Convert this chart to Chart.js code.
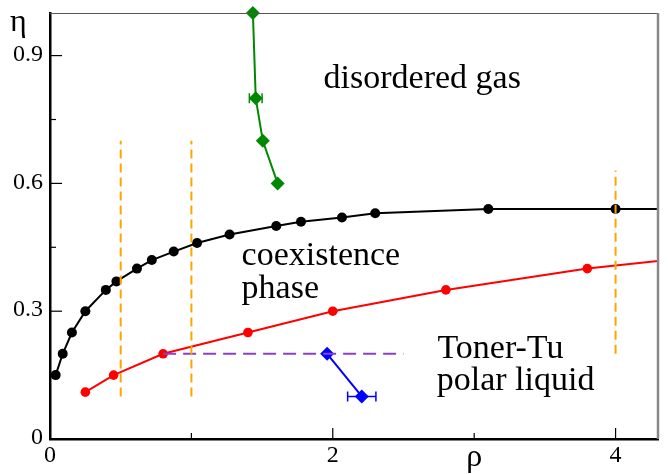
<!DOCTYPE html>
<html>
<head>
<meta charset="utf-8">
<script src="https://cdn.jsdelivr.net/npm/chart.js@4.4.1/dist/chart.umd.min.js"></script>
<style>
    body { margin: 0; background: #fff; }
    #wrap { width: 668px; height: 474px; }
</style>
</head>
<body>
<div id="wrap"><canvas id="phaseChart"></canvas></div>
<script>
// binodal (black), spinodal-ish (red), gas boundary (green), Toner-Tu (blue)
const blackRho = [0.04, 0.09, 0.155, 0.25, 0.395, 0.47, 0.615, 0.72, 0.875, 1.04, 1.27, 1.6, 1.775, 2.065, 2.3, 3.1, 4.0, 4.5];
const blackEta = [0.15, 0.2, 0.25, 0.3, 0.35, 0.37, 0.4, 0.42, 0.44, 0.46, 0.48, 0.5, 0.51, 0.52, 0.53, 0.54, 0.54, 0.54];
const redRho = [0.25, 0.45, 0.8, 1.4, 2.0, 2.8, 3.8, 4.5];
const redEta = [0.11, 0.15, 0.2, 0.25, 0.3, 0.35, 0.4, 0.425];
const greenRho = [1.435, 1.455, 1.505, 1.61];
const greenEta = [1.0, 0.8, 0.7, 0.6];
const greenErr = [0, 0.045, 0, 0];
const blueRho = [1.96, 2.205];
const blueEta = [0.2, 0.1];
const blueErr = [0, 0.1];

// dashed guide lines
const purpleRho = [0.8, 2.5];
const purpleEta = [0.2, 0.2];
const orangeLines = [
    { rho: 0.5, from: 0.1, to: 0.7 },
    { rho: 1.0, from: 0.1, to: 0.7 },
    { rho: 4.0, from: 0.2, to: 0.63 }
];

const xTicks = [0, 2, 4];
const xMinorTicks = [1, 3];
const yTicks = [0, 0.3, 0.6, 0.9];
const yMinorTicks = [0.15, 0.45, 0.75];

const regionLabels = [
    { text: "disordered gas", rho: 1.935, eta: 0.825 },
    { text: "coexistence", rho: 1.355, eta: 0.408 },
    { text: "phase", rho: 1.355, eta: 0.33 },
    { text: "Toner-Tu", rho: 2.74, eta: 0.19 },
    { text: "polar liquid", rho: 2.735, eta: 0.115 }
];

const serif = "'Liberation Serif', 'DejaVu Serif', serif";

function pairs(xs, ys) {
    return xs.map((x, i) => ({ x: x, y: ys[i] }));
}

const datasets = [];

orangeLines.forEach(l => {
    datasets.push({
        data: [{ x: l.rho, y: l.from }, { x: l.rho, y: l.to }],
        borderColor: "#ffa500",
        borderWidth: 2,
        borderDash: [9, 5],
        pointRadius: 0
    });
});

datasets.push({
    data: pairs(purpleRho, purpleEta),
    borderColor: "#8a3fc8",
    borderWidth: 2,
    borderDash: [13, 7],
    pointRadius: 0
});

datasets.push({
    data: pairs(blackRho, blackEta),
    borderColor: "#000",
    backgroundColor: "#000",
    borderWidth: 2,
    pointRadius: 5,
    pointBorderWidth: 0
});

datasets.push({
    data: pairs(redRho, redEta),
    borderColor: "#ff0000",
    backgroundColor: "#ff0000",
    borderWidth: 2,
    pointRadius: 4.8,
    pointBorderWidth: 0
});

datasets.push({
    data: pairs(greenRho, greenEta),
    errors: greenErr,
    borderColor: "#008800",
    backgroundColor: "#008800",
    borderWidth: 2,
    pointStyle: "rectRot",
    pointRadius: 7,
    pointBorderWidth: 0,
    clip: false
});

datasets.push({
    data: pairs(blueRho, blueEta),
    errors: blueErr,
    borderColor: "#0000ff",
    backgroundColor: "#0000ff",
    borderWidth: 2,
    pointStyle: "rectRot",
    pointRadius: 7,
    pointBorderWidth: 0
});

// error bars, inward tick marks, tick labels, frame and text
const decorations = {
    id: "decorations",
    afterDatasetsDraw(chart) {
        const ctx = chart.ctx;
        const xs = chart.scales.x;
        const ys = chart.scales.y;
        chart.data.datasets.forEach(ds => {
            if (!ds.errors) return;
            ctx.save();
            ctx.strokeStyle = ds.borderColor;
            ctx.lineWidth = 1.5;
            ds.data.forEach((p, i) => {
                const e = ds.errors[i];
                if (!e) return;
                const x0 = xs.getPixelForValue(p.x - e);
                const x1 = xs.getPixelForValue(p.x + e);
                const y = ys.getPixelForValue(p.y);
                ctx.beginPath();
                ctx.moveTo(x0, y); ctx.lineTo(x1, y);
                ctx.moveTo(x0, y - 5); ctx.lineTo(x0, y + 5);
                ctx.moveTo(x1, y - 5); ctx.lineTo(x1, y + 5);
                ctx.stroke();
            });
            ctx.restore();
        });
    },
    afterDraw(chart) {
        const ctx = chart.ctx;
        const a = chart.chartArea;
        const xs = chart.scales.x;
        const ys = chart.scales.y;
        ctx.save();

        // top and right frame
        ctx.strokeStyle = "#555";
        ctx.lineWidth = 1;
        ctx.beginPath();
        ctx.moveTo(a.left, a.top + 0.5); ctx.lineTo(a.right, a.top + 0.5);
        ctx.stroke();
        ctx.strokeStyle = "#888";
        ctx.lineWidth = 2.5;
        ctx.beginPath();
        ctx.moveTo(a.right, a.top); ctx.lineTo(a.right, a.bottom);
        ctx.stroke();

        // inward ticks
        ctx.strokeStyle = "#000";
        ctx.lineWidth = 1.2;
        xTicks.concat(xMinorTicks).forEach(v => {
            if (v === 0) return;
            const len = xTicks.includes(v) ? 11 : 6;
            const x = xs.getPixelForValue(v);
            ctx.beginPath();
            ctx.moveTo(x, a.bottom); ctx.lineTo(x, a.bottom - len);
            ctx.stroke();
        });
        yTicks.concat(yMinorTicks).forEach(v => {
            if (v === 0) return;
            const len = yTicks.includes(v) ? 12 : 6;
            const y = ys.getPixelForValue(v);
            ctx.beginPath();
            ctx.moveTo(a.left, y); ctx.lineTo(a.left + len, y);
            ctx.stroke();
        });

        // tick labels
        ctx.fillStyle = "#000";
        ctx.font = "24px " + serif;
        ctx.textAlign = "right";
        ctx.textBaseline = "middle";
        yTicks.forEach(v => {
            ctx.fillText(String(v), a.left - 7, ys.getPixelForValue(v) - 1);
        });
        ctx.textAlign = "center";
        ctx.textBaseline = "alphabetic";
        xTicks.forEach(v => {
            ctx.fillText(String(v), xs.getPixelForValue(v), a.bottom + 23);
        });

        // region labels
        ctx.font = "34px " + serif;
        ctx.textAlign = "left";
        regionLabels.forEach(l => {
            ctx.fillText(l.text, xs.getPixelForValue(l.rho), ys.getPixelForValue(l.eta));
        });

        // axis titles
        ctx.font = "32px " + serif;
        ctx.fillText("η", a.left - 40, a.top + 18);
        ctx.textAlign = "center";
        ctx.fillText("ρ", xs.getPixelForValue(3.0), a.bottom + 27);
        ctx.restore();
    }
};

new Chart(document.getElementById("phaseChart"), {
    type: "line",
    data: { datasets: datasets },
    options: {
        responsive: true,
        maintainAspectRatio: false,
        animation: false,
        events: [],
        layout: { padding: { top: 13, right: 10, left: 0, bottom: 0 } },
        plugins: {
            legend: { display: false },
            tooltip: { enabled: false }
        },
        scales: {
            x: {
                type: "linear",
                min: 0,
                max: 4.3,
                grid: { display: false, drawTicks: false },
                border: { display: true, color: "#000", width: 2.5 },
                ticks: { display: false },
                afterFit(scale) { scale.height = 35; }
            },
            y: {
                type: "linear",
                min: 0,
                max: 1.0,
                grid: { display: false, drawTicks: false },
                border: { display: true, color: "#000", width: 2.5 },
                ticks: { display: false },
                afterFit(scale) { scale.width = 50; }
            }
        }
    },
    plugins: [decorations]
});
</script>
</body>
</html>
